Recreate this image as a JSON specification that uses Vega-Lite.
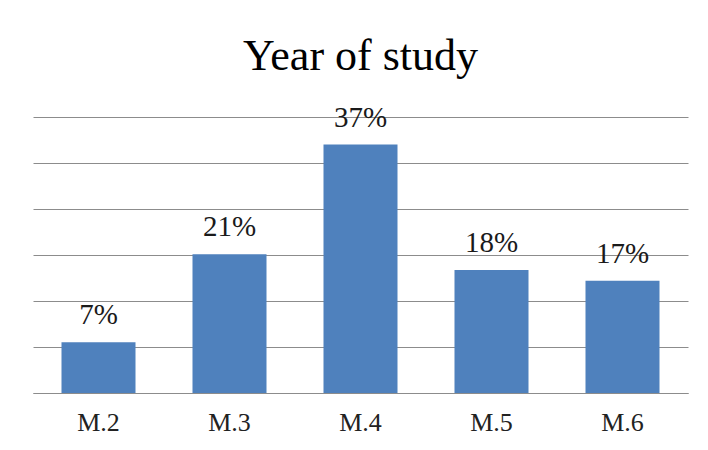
{
  "$schema": "https://vega.github.io/schema/vega-lite/v6.json",
  "width": 655,
  "height": 276,
  "autosize": {"type": "none"},
  "padding": {"left": 33, "top": 117, "right": 20, "bottom": 57},
  "background": "white",
  "title": {
    "text": "Year of study",
    "font": "Liberation Serif",
    "fontSize": 44,
    "fontWeight": "normal",
    "color": "#000000",
    "anchor": "middle",
    "baseline": "alphabetic",
    "offset": 48,
    "dy": 58
  },
  "data": {
    "values": [
      {"year": "M.2", "share": 0.0772, "label": "7%"},
      {"year": "M.3", "share": 0.211, "label": "21%"},
      {"year": "M.4", "share": 0.378, "label": "37%"},
      {"year": "M.5", "share": 0.187, "label": "18%"},
      {"year": "M.6", "share": 0.171, "label": "17%"}
    ]
  },
  "encoding": {
    "x": {
      "field": "year",
      "type": "nominal",
      "sort": null,
      "scale": {"paddingInner": 0.435, "paddingOuter": 0.2175},
      "axis": {
        "title": null,
        "labelAngle": 0,
        "labelFont": "Liberation Serif",
        "labelFontSize": 26,
        "labelColor": "#222222",
        "labelBaseline": "alphabetic",
        "labelPadding": 37,
        "ticks": false,
        "tickSize": 0,
        "domainColor": "#8c8c8c",
        "domainWidth": 1
      }
    },
    "y": {
      "field": "share",
      "type": "quantitative",
      "scale": {"domain": [0, 0.42], "nice": false},
      "axis": {
        "title": null,
        "labels": false,
        "ticks": false,
        "domain": false,
        "values": [0, 0.07, 0.14, 0.21, 0.28, 0.35, 0.42],
        "gridColor": "#8c8c8c",
        "gridWidth": 1
      }
    }
  },
  "layer": [
    {"mark": {"type": "bar", "color": "#4F81BD"}},
    {
      "mark": {
        "type": "text",
        "font": "Liberation Serif",
        "fontSize": 29,
        "color": "#1a1a1a",
        "baseline": "alphabetic",
        "dy": -18
      },
      "encoding": {"text": {"field": "label"}}
    }
  ],
  "config": {"view": {"stroke": null}}
}
